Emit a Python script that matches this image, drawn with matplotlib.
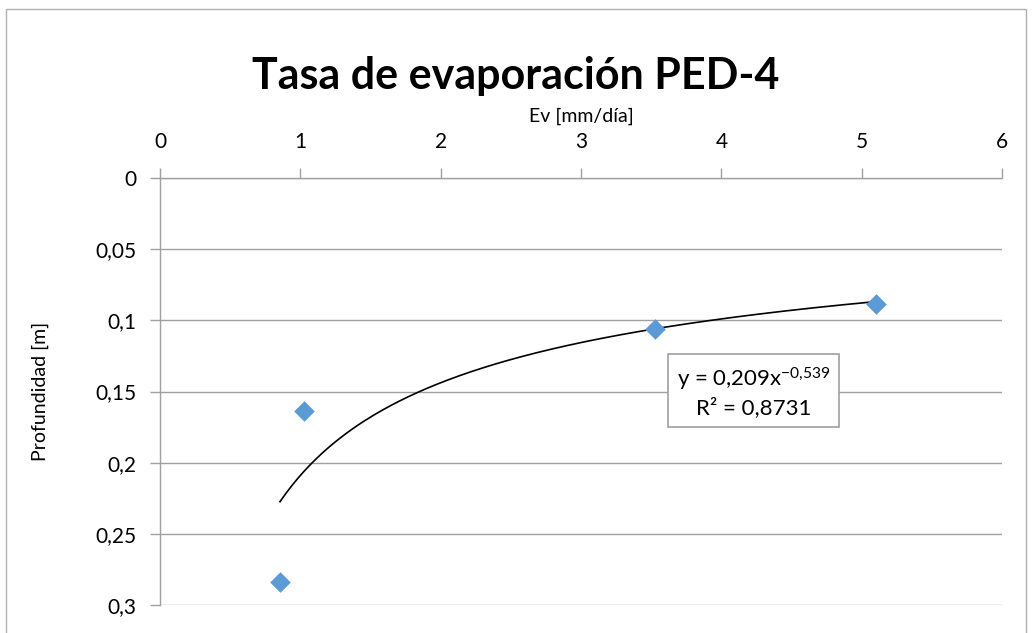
import numpy as np
import matplotlib
matplotlib.use("Agg")
import matplotlib.pyplot as plt
from matplotlib.ticker import FuncFormatter

plt.rcParams['font.family'] = ['Lato', 'DejaVu Sans']
plt.rcParams['mathtext.fontset'] = 'custom'
plt.rcParams['mathtext.rm'] = 'Lato'
plt.rcParams['mathtext.it'] = 'Lato'

# measured points
ev = [0.855, 1.026, 3.528, 5.10]
profundidad = [0.2838, 0.1637, 0.1061, 0.0885]

# power trendline coefficients (as shown on the chart)
coef_a = 0.209
coef_b = -0.539
r2 = 0.8731

x_ticks = [0, 1, 2, 3, 4, 5, 6]
y_ticks = [0, 0.05, 0.1, 0.15, 0.2, 0.25, 0.3]

fig = plt.figure(figsize=(10.32, 6.33), dpi=100)
ax = fig.add_axes([0.155, 0.0442, 0.816, 0.6746])

gray = '#a0a0a0'

# trendline over the data range
xt = np.linspace(min(ev), max(ev), 200)
ax.plot(xt, coef_a * xt ** coef_b, color='black', lw=1.2, zorder=3)

ax.scatter(ev, profundidad, marker='D', s=110, color='#5b9bd5', zorder=4, linewidths=0)

ax.set_xlim(0, 6)
ax.set_ylim(0.3, 0)
ax.set_xticks(x_ticks)
ax.set_yticks(y_ticks)
ax.xaxis.tick_top()
ax.xaxis.set_label_position('top')

comma = FuncFormatter(lambda v, p: ('%g' % round(v, 2)).replace('.', ','))
ax.xaxis.set_major_formatter(comma)
ax.yaxis.set_major_formatter(comma)

ax.grid(axis='y', color=gray, lw=1)
ax.set_axisbelow(True)
for s in ['right', 'bottom']:
    ax.spines[s].set_visible(False)
for s in ['top', 'left']:
    ax.spines[s].set_color(gray)
    ax.spines[s].set_linewidth(1)
ax.tick_params(axis='both', colors=gray, labelcolor='black', labelsize=15,
               length=7, width=1, direction='out')
ax.tick_params(axis='x', pad=12)
ax.tick_params(axis='y', pad=10)

ax.set_xlabel('Ev [mm/día]', fontsize=14, labelpad=7)
ax.set_ylabel('Profundidad [m]', fontsize=14, labelpad=33)

fig.text(0.5, 0.88, 'Tasa de evaporación PED-4', ha='center', va='center',
         fontsize=31, fontweight='bold')

eq = ('y = ' + ('%g' % coef_a).replace('.', ',') + 'x$^{' +
      ('%g' % coef_b).replace('.', '{,}') + '}$\nR² = ' + ('%g' % r2).replace('.', ','))
ax.text(4.23, 0.15, eq, ha='center', va='center', multialignment='center',
        fontsize=16, linespacing=1.25,
        bbox=dict(boxstyle='square,pad=0.4', fc='white', ec=gray, lw=1.2), zorder=5)

# outer chart border
fig.patches.append(plt.Rectangle((0.006, -0.02), 0.988, 1.005, transform=fig.transFigure,
                                 fill=False, ec='#b0b0b0', lw=1))

fig.savefig('out.png', dpi=100)
